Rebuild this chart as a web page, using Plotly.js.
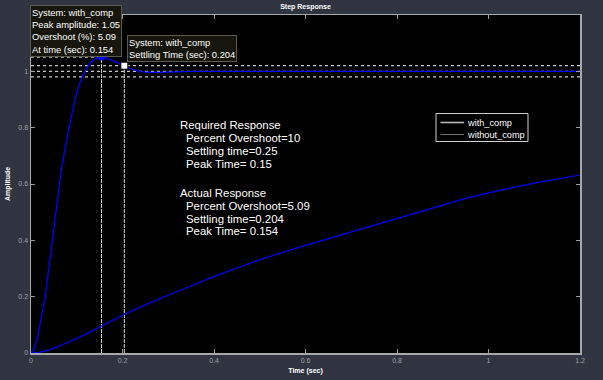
<!DOCTYPE html>
<html>
<head>
<meta charset="utf-8">
<script src="https://cdn.plot.ly/plotly-3.0.1.min.js"></script>
<style>html,body{margin:0;padding:0;background:#2f3440;}#chart{width:603px;height:380px;}</style>
</head>
<body>
<div id="chart"></div>
<script>
// ---- data ----
const withCompT = [0, 0.005, 0.01, 0.016, 0.023, 0.031, 0.038, 0.045, 0.056, 0.067, 0.082, 0.096, 0.105, 0.115, 0.125, 0.133, 0.143, 0.154, 0.165, 0.177, 0.19, 0.204, 0.22, 0.24, 0.26, 0.28, 0.30, 0.33, 0.36, 0.40, 0.5, 0.6, 0.8, 1.0, 1.2];
const withCompY = [0, 0.01, 0.03, 0.07, 0.13, 0.20, 0.29, 0.38, 0.52, 0.66, 0.79, 0.90, 0.95, 0.99, 1.02, 1.035, 1.047, 1.05, 1.047, 1.04, 1.03, 1.02, 1.008, 0.999, 0.996, 0.996, 0.998, 0.999, 1.0, 1.0, 1.0, 1.0, 1.0, 1.0, 1.0];
const withoutT = [0, 0.02, 0.042, 0.06, 0.085, 0.12, 0.151, 0.202, 0.25, 0.29, 0.35, 0.399, 0.45, 0.509, 0.589, 0.66, 0.735, 0.81, 0.881, 0.95, 1.027, 1.1, 1.2];
const withoutY = [0, 0.003, 0.012, 0.024, 0.041, 0.067, 0.094, 0.136, 0.171, 0.199, 0.238, 0.271, 0.302, 0.336, 0.377, 0.411, 0.447, 0.483, 0.517, 0.549, 0.578, 0.603, 0.632];
const seriesNames = ["with_comp", "without_comp"];
const peakTime = 0.154, peakAmp = 1.05;
const settleTime = 0.204, settleAmp = 1.02;
const steadyState = 1.0;
const bandLevels = [0.98, 1.02];
const xRange = [0, 1.2];
const xTicks = [0, 0.2, 0.4, 0.6, 0.8, 1, 1.2];
const xTickText = ["0", "0.2", "0.4", "0.6", "0.8", "1", "1.2"];
const yTicks = [0, 0.2, 0.4, 0.6, 0.8, 1];
const yTickText = ["0", "0.2", "0.4", "0.6", "0.8", "1"];
const tip1Lines = ["System: with_comp", "Peak amplitude: 1.05", "Overshoot (%): 5.09", "At time (sec): 0.154"];
const tip2Lines = ["System: with_comp", "Settling Time (sec): 0.204"];
const reqLines = ["Required Response", "Percent Overshoot=10", "Settling time=0.25", "Peak Time= 0.15"];
const actLines = ["Actual Response", "Percent Overshoot=5.09", "Settling time=0.204", "Peak Time= 0.154"];

// ---- layout helpers (pixel -> paper) ----
const W = 603, H = 380, L = 31, R = 23, T = 15, B = 27;
const PW = W - L - R, PH = H - T - B;
const px2x = p => (p - L) / PW;
const py2y = p => (H - B - p) / PH;
const FONT = "Liberation Sans, Arial, sans-serif";
const refCol = "#c8c8c8";

const traces = [];
bandLevels.forEach(v => traces.push({x: xRange, y: [v, v], mode: "lines", line: {color: refCol, width: 1.2, dash: "dot"}, showlegend: false, hoverinfo: "skip"}));
traces.push({x: xRange, y: [steadyState, steadyState], mode: "lines", line: {color: refCol, width: 1.2, dash: "dot"}, showlegend: false, hoverinfo: "skip"});
traces.push({x: [0, peakTime], y: [peakAmp, peakAmp], mode: "lines", line: {color: refCol, width: 1.2, dash: "dot"}, showlegend: false, hoverinfo: "skip"});
traces.push({x: [peakTime, peakTime], y: [0, peakAmp], mode: "lines", line: {color: "#d8d8d8", width: 1, dash: "4px,1px"}, showlegend: false, hoverinfo: "skip"});
traces.push({x: [settleTime, settleTime], y: [0, settleAmp], mode: "lines", line: {color: "#d8d8d8", width: 1, dash: "4px,1px"}, showlegend: false, hoverinfo: "skip"});
traces.push({x: withoutT, y: withoutY, mode: "lines", line: {color: "#0000ff", width: 1.2}, showlegend: false});
traces.push({x: withCompT, y: withCompY, mode: "lines", line: {color: "#0000ff", width: 1.3}, showlegend: false});
traces.push({x: [peakTime], y: [peakAmp], mode: "markers", marker: {symbol: "square", size: 6, color: "#0000ff"}, showlegend: false});
traces.push({x: [settleTime], y: [settleAmp], mode: "markers", marker: {symbol: "square", size: 7, color: "#ffffff", line: {color: "#000", width: 1}}, showlegend: false});

const annotations = [];
const shapes = [];
const tipFont = {family: FONT, size: 9.4, color: "#fff"};
annotations.push({xref: "paper", yref: "paper", x: px2x(29.5), y: py2y(5), xanchor: "left", yanchor: "top",
  text: tip1Lines.join("<br>"), align: "left", showarrow: false, font: tipFont,
  bgcolor: "#16160e", bordercolor: "#5a5a50", borderwidth: 1, borderpad: 1});
annotations.push({xref: "paper", yref: "paper", x: px2x(127), y: py2y(34.5), xanchor: "left", yanchor: "top",
  text: tip2Lines.join("<br>"), align: "left", showarrow: false, font: tipFont,
  bgcolor: "#16160e", bordercolor: "#5a5a50", borderwidth: 1, borderpad: 1});
const reqY = [124.5, 138, 151, 164];
const actY = [192.5, 206, 219, 231];
function addBlock(lines, ys) {
  lines.forEach((t, i) => annotations.push({xref: "paper", yref: "paper", x: px2x(i === 0 ? 179 : 184.5), y: py2y(ys[i]),
    xanchor: "left", yanchor: "middle", text: t, showarrow: false, borderpad: 0,
    font: {family: FONT, size: 11.4, color: "#fff"}}));
}
addBlock(reqLines, reqY);
addBlock(actLines, actY);

// custom legend (compact, like the reference)
shapes.push({type: "rect", xref: "paper", yref: "paper", x0: px2x(436), x1: px2x(528), y0: py2y(113.5), y1: py2y(141.5),
  fillcolor: "#000", line: {color: "#d0d0d0", width: 1}});
const legColors = ["#b8b8b8", "#707070"], legWidths = [1.6, 1], legY = [122.5, 134.5];
seriesNames.forEach((n, i) => {
  shapes.push({type: "line", xref: "paper", yref: "paper", x0: px2x(440.5), x1: px2x(464), y0: py2y(legY[i]), y1: py2y(legY[i]),
    line: {color: legColors[i], width: legWidths[i]}});
  annotations.push({xref: "paper", yref: "paper", x: px2x(466), y: py2y(legY[i]), xanchor: "left", yanchor: "middle",
    text: n, showarrow: false, borderpad: 0, font: {family: FONT, size: 9.2, color: "#fff"}});
});

const axisCommon = {showgrid: false, zeroline: false, ticks: "inside", ticklen: 4, tickcolor: "#9a9a9a",
  showline: true, linecolor: "#a8a8a8", linewidth: 1.5, mirror: "ticks",
  tickfont: {family: FONT, size: 7, color: "#a0a0a0"}};

const layout = {
  width: W, height: H,
  margin: {l: L, r: R, t: T, b: B, pad: 0},
  paper_bgcolor: "#2f3440", plot_bgcolor: "#000000",
  title: {text: "<b>Step Response</b>", font: {family: FONT, size: 7, color: "#ffffff"}, x: 0.5, xref: "paper", y: 1 - 7 / H, yref: "container", yanchor: "middle"},
  xaxis: Object.assign({}, axisCommon, {range: xRange, tickvals: xTicks, ticktext: xTickText,
    title: {text: "<b>Time (sec)</b>", font: {family: FONT, size: 7, color: "#ffffff"}, standoff: 5}}),
  yaxis: Object.assign({}, axisCommon, {range: [0, 1.2], tickvals: yTicks, ticktext: yTickText,
    title: {text: "<b>Amplitude</b>", font: {family: FONT, size: 7, color: "#ffffff"}, standoff: 7}}),
  annotations: annotations,
  shapes: shapes,
  showlegend: false
};

Plotly.newPlot("chart", traces, layout, {displayModeBar: false, staticPlot: true});
</script>
</body>
</html>
